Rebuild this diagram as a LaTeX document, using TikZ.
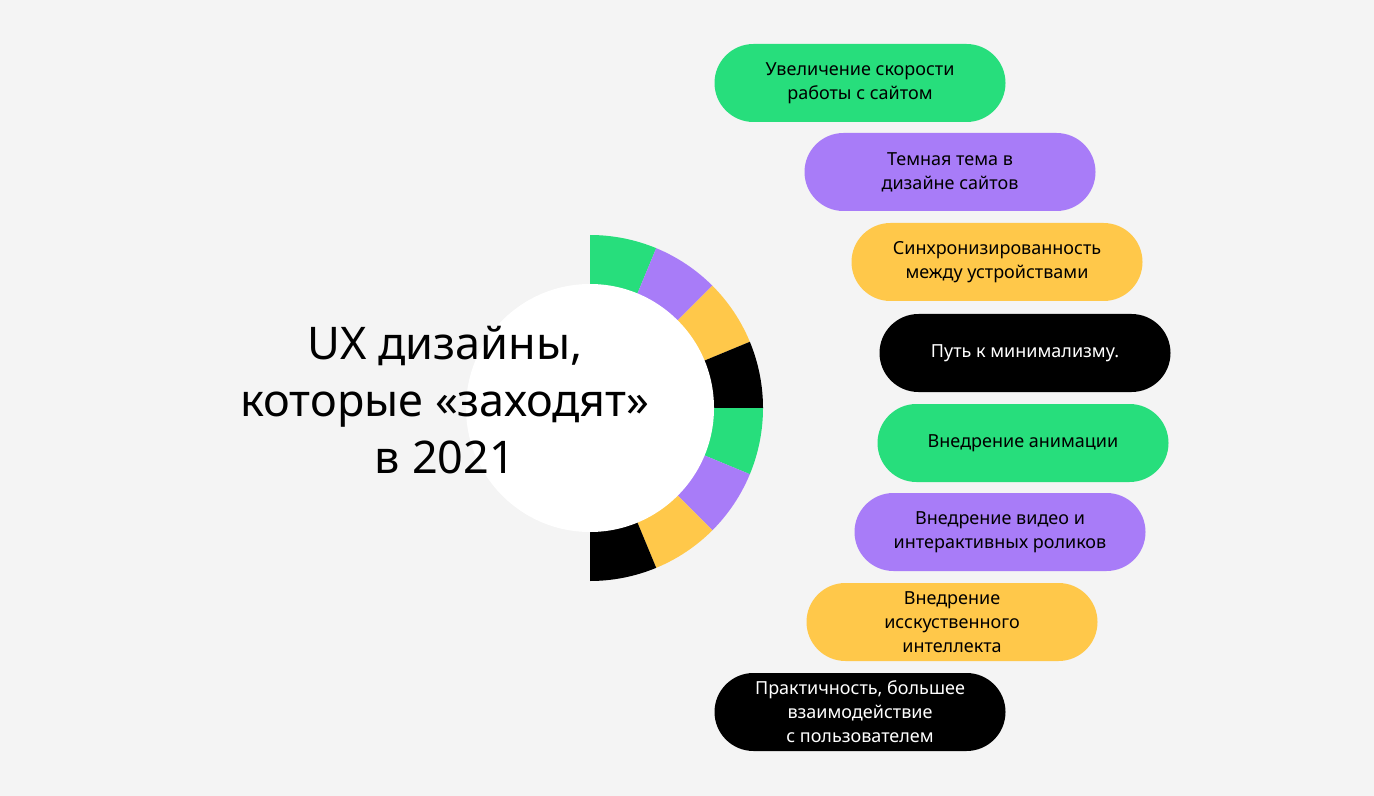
\documentclass[tikz,border=0pt]{standalone}
\usepackage{fontspec}
\setmainfont{Noto Sans}
\usetikzlibrary{backgrounds}
\definecolor{ugreen}{HTML}{27DE7C}
\definecolor{upurple}{HTML}{A87CF8}
\definecolor{uyellow}{HTML}{FFC84A}
\definecolor{ubg}{HTML}{F4F4F4}
\tikzset{
  pill/.style={rounded corners=19.5pt, minimum width=145.5pt, minimum height=39pt,
    align=center, font=\fontsize{9}{12}\selectfont, inner sep=2pt},
  link/.style={line width=0.8pt}
}
\begin{document}
\begin{tikzpicture}[x=0.5pt,y=-0.5pt]
    \fill[ubg] (0,0) rectangle (1374,796);
    \useasboundingbox (0,0) rectangle (1374,796);

    \coordinate (c) at (590,408);

    % ring
    \foreach \i/\col in {0/ugreen,1/upurple,2/uyellow,3/black,4/ugreen,5/upurple,6/uyellow,7/black} {
        \pgfmathsetmacro{\ta}{-90+22.5*\i}
        \pgfmathsetmacro{\tb}{-67.5+22.5*\i}
        \fill[\col] (c) -- ++(\ta:173) arc[start angle=\ta, end angle=\tb, radius=173] -- cycle;
    }
    \fill[white] (c) circle [radius=124];

    \node [font=\fontsize{22.5}{28.5}\selectfont\bfseries, align=center] (title) at (445,400)
        {UX дизайны,\\которые «заходят»\\в 2021};

    \node [pill, fill=ugreen] (p1) at (860,83) {Увеличение скорости\\работы с сайтом};
    \node [pill, fill=upurple] (p2) at (950,172) {Темная тема в\\дизайне сайтов};
    \node [pill, fill=uyellow] (p3) at (997,262) {Синхронизированность\\между устройствами};
    \node [pill, fill=black, text=white] (p4) at (1025,353) {Путь к минимализму.};
    \node [pill, fill=ugreen] (p5) at (1023,443) {Внедрение анимации};
    \node [pill, fill=upurple] (p6) at (1000,532) {Внедрение видео и\\интерактивных роликов};
    \node [pill, fill=uyellow] (p7) at (952,622) {Внедрение\\исскуственного\\интеллекта};
    \node [pill, fill=black, text=white] (p8) at (860,712) {Практичность, большее\\взаимодействие\\с пользователем};

    \coordinate (s1) at (625,237); \coordinate (b1) at (661,160); \coordinate (e1) at (728,108);
    \coordinate (s2) at (712,258); \coordinate (b2) at (731,228); \coordinate (e2) at (810,188);
    \coordinate (s3) at (741,323); \coordinate (b3) at (782,291); \coordinate (e3) at (860,282);
    \coordinate (s4) at (762,383); \coordinate (b4) at (818,365); \coordinate (e4) at (885,365);
    \coordinate (s5) at (762,433); \coordinate (b5) at (815,448); \coordinate (e5) at (882,453);
    \coordinate (s6) at (741,493); \coordinate (b6) at (787,516); \coordinate (e6) at (860,525);
    \coordinate (s7) at (680,555); \coordinate (b7) at (731,598); \coordinate (e7) at (812,615);
    \coordinate (s8) at (625,578); \coordinate (b8) at (661,665); \coordinate (e8) at (720,700);

    \begin{scope}[on background layer]
        \draw [link, ugreen] (s1) -- (b1) -- (e1);
        \draw [link, upurple] (s2) -- (b2) -- (e2);
        \draw [link, uyellow] (s3) -- (b3) -- (e3);
        \draw [link, black] (s4) -- (b4) -- (e4);
        \draw [link, ugreen] (s5) -- (b5) -- (e5);
        \draw [link, upurple] (s6) -- (b6) -- (e6);
        \draw [link, uyellow] (s7) -- (b7) -- (e7);
        \draw [link, black] (s8) -- (b8) -- (e8);
    \end{scope}
\end{tikzpicture}
\end{document}
